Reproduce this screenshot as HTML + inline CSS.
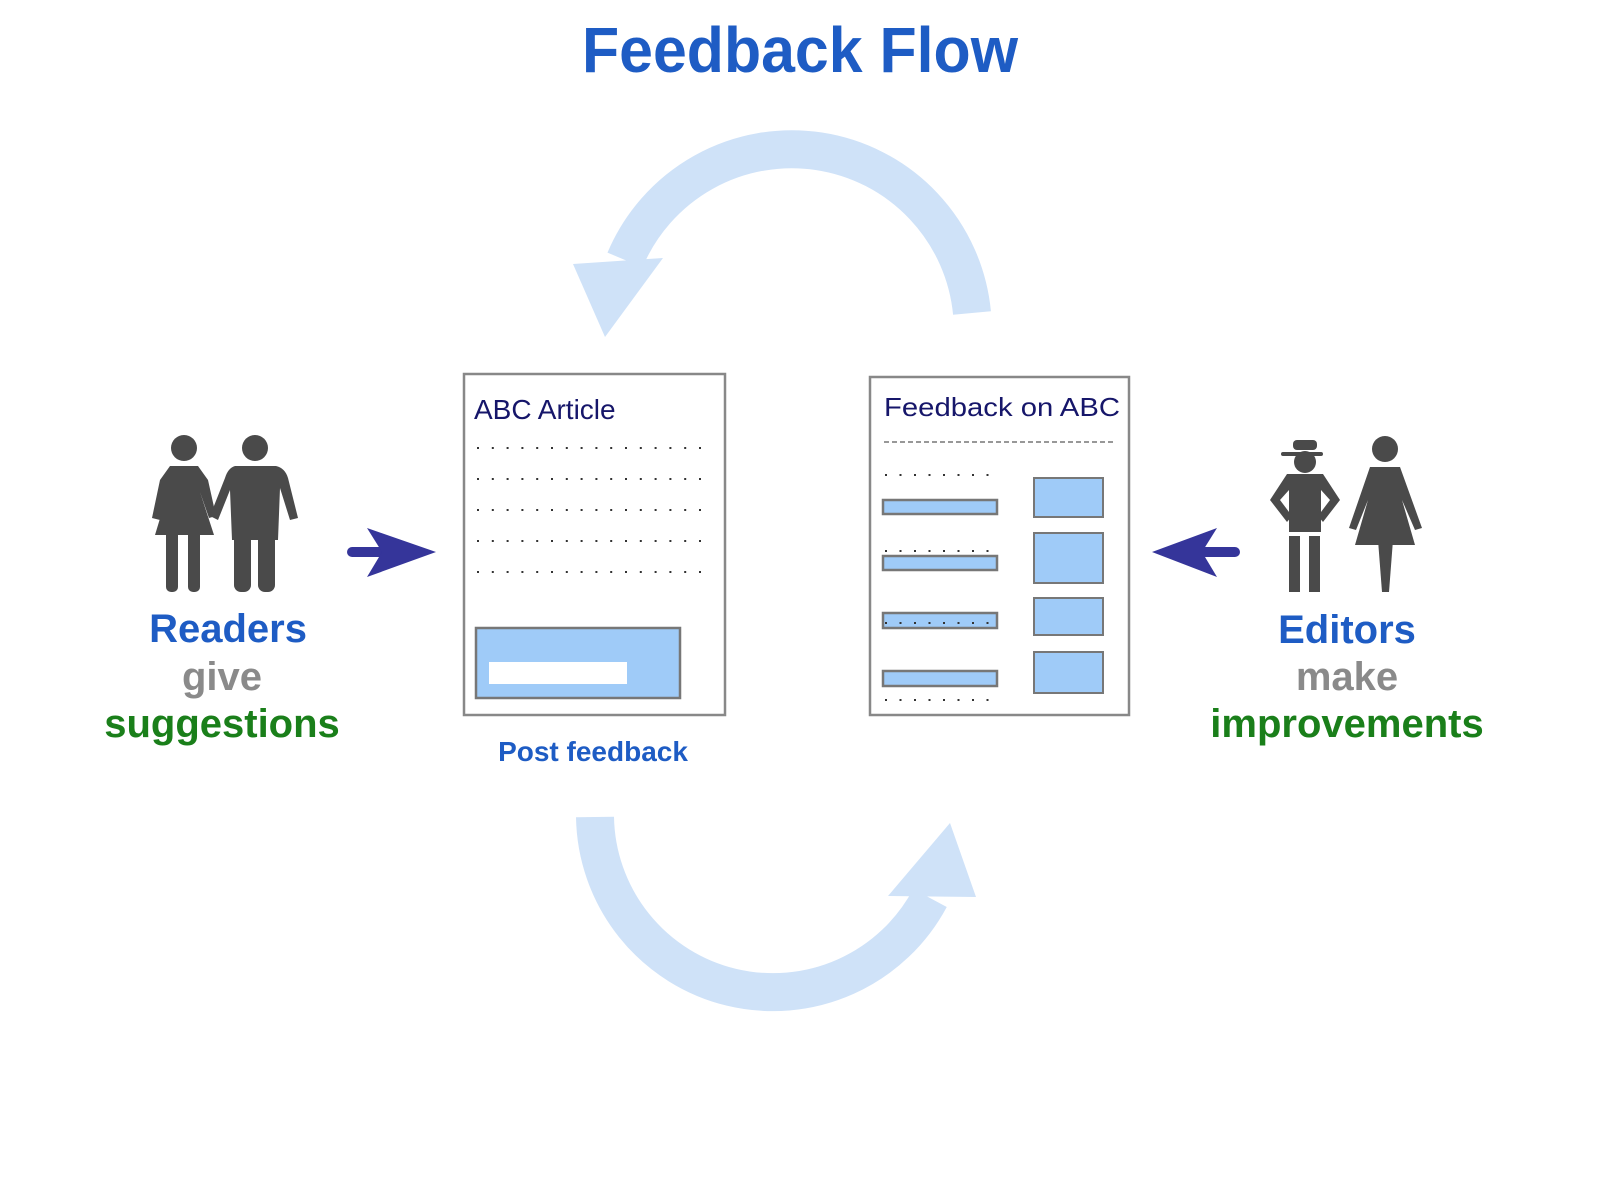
<!DOCTYPE html>
<html><head><meta charset="utf-8"><style>
html,body{margin:0;padding:0;background:#fff;}
svg{display:block;}
</style></head><body>
<svg width="1600" height="1200" viewBox="0 0 1600 1200" xmlns="http://www.w3.org/2000/svg">
<rect width="1600" height="1200" fill="#fff"/>
<text x="582" y="72" font-family="Liberation Sans, sans-serif" font-weight="bold" font-size="64" fill="#1e5cc4" textLength="436" lengthAdjust="spacingAndGlyphs">Feedback Flow</text>

<!-- arcs -->
<g fill="none" stroke="#cfe2f8" stroke-width="38">
<path d="M 972 313 A 181 181 0 0 0 625 260"/>
<path d="M 595 817 A 178 178 0 0 0 930 898"/>
</g>
<polygon points="573,264 663,258 605,337" fill="#cfe2f8"/>
<polygon points="888,896 976,897 950,823" fill="#cfe2f8"/>

<!-- readers icons -->
<g fill="#4a4a4a">
<circle cx="184" cy="448" r="13"/>
<path d="M170 466 L198 466 L208 480 L216 516 L209 518 L200 492 L214 535 L155 535 L168 492 L160 520 L152 518 L160 480 Z"/>
<rect x="166" y="530" width="12" height="62" rx="5"/>
<rect x="188" y="530" width="12" height="62" rx="5"/>
<circle cx="255" cy="448" r="13"/>
<path d="M235 466 L276 466 Q285 468 288 478 L298 518 L290 520 L280 488 L278 540 L232 540 L230 490 L218 520 L210 516 L225 478 Q228 468 235 466 Z"/>
<rect x="234" y="530" width="17" height="62" rx="7"/>
<rect x="258" y="530" width="17" height="62" rx="7"/>
</g>

<!-- editors icons -->
<g fill="#4a4a4a">
<rect x="1293" y="440" width="24" height="10" rx="4"/>
<rect x="1281" y="452" width="42" height="4" rx="2"/>
<circle cx="1305" cy="462" r="11"/>
<path d="M1287 474 L1323 474 L1340 500 L1323 522 L1318 516 L1330 500 L1321 490 L1321 532 L1289 532 L1289 490 L1280 500 L1292 516 L1287 522 L1270 500 Z"/>
<rect x="1289" y="536" width="11" height="56"/>
<rect x="1309" y="536" width="11" height="56"/>
<circle cx="1385" cy="449" r="13"/>
<path d="M1370 467 L1400 467 L1422 528 L1415 530 L1402 500 L1415 545 L1355 545 L1368 500 L1356 530 L1349 528 Z"/>
<path d="M1378 540 L1393 540 L1389 592 L1382 592 Z"/>
</g>

<!-- arrows -->
<g fill="#35359a">
<rect x="347" y="547" width="40" height="10" rx="5"/>
<polygon points="436,552 367,528 382,552 367,577"/>
<rect x="1200" y="547" width="40" height="10" rx="5"/>
<polygon points="1152,552 1217,528 1202,552 1217,577"/>
</g>

<!-- text labels -->
<g font-family="Liberation Sans, sans-serif" font-weight="bold" font-size="40" text-anchor="middle">
<text x="228" y="642" fill="#1e5cc4">Readers</text>
<text x="222" y="690" fill="#8a8a8a">give</text>
<text x="222" y="737" fill="#1a7f1a">suggestions</text>
<text x="1347" y="643" fill="#1e5cc4">Editors</text>
<text x="1347" y="690" fill="#8a8a8a">make</text>
<text x="1347" y="737" fill="#1a7f1a">improvements</text>
</g>

<!-- left box -->
<rect x="464" y="374" width="261" height="341" fill="#fff" stroke="#888" stroke-width="2.5"/>
<text x="474" y="419" font-family="Liberation Sans, sans-serif" font-size="28" fill="#16166a">ABC Article</text>
<g stroke="#333" stroke-width="2" stroke-dasharray="2 12.8" fill="none">
<line x1="477" y1="448" x2="702" y2="448"/>
<line x1="477" y1="479" x2="702" y2="479"/>
<line x1="477" y1="510" x2="702" y2="510"/>
<line x1="477" y1="541" x2="702" y2="541"/>
<line x1="477" y1="572" x2="702" y2="572"/>
</g>
<rect x="476" y="628" width="204" height="70" fill="#9fcbf8" stroke="#777" stroke-width="2.5"/>
<rect x="489" y="662" width="138" height="22" fill="#fff"/>
<text x="593" y="761" font-family="Liberation Sans, sans-serif" font-weight="bold" font-size="28" fill="#1e5cc4" text-anchor="middle">Post feedback</text>

<!-- right box -->
<rect x="870" y="377" width="259" height="338" fill="#fff" stroke="#888" stroke-width="2.5"/>
<text x="884" y="416" font-family="Liberation Sans, sans-serif" font-size="26" fill="#16166a" textLength="236" lengthAdjust="spacingAndGlyphs">Feedback on ABC</text>
<line x1="884" y1="442" x2="1115" y2="442" stroke="#777" stroke-width="1.5" stroke-dasharray="5 3"/>
<g fill="#9fcbf8" stroke="#777" stroke-width="2.5">
<rect x="883" y="500" width="114" height="14"/>
<rect x="883" y="556" width="114" height="14"/>
<rect x="883" y="613" width="114" height="15"/>
<rect x="883" y="671" width="114" height="15"/>
<rect x="1034" y="478" width="69" height="39" stroke-width="2"/>
<rect x="1034" y="533" width="69" height="50" stroke-width="2"/>
<rect x="1034" y="598" width="69" height="37" stroke-width="2"/>
<rect x="1034" y="652" width="69" height="41" stroke-width="2"/>
</g>
<g stroke="#333" stroke-width="2" stroke-dasharray="2 12.5" fill="none">
<line x1="885" y1="475" x2="1000" y2="475"/>
<line x1="885" y1="551" x2="1000" y2="551"/>
<line x1="885" y1="623" x2="1000" y2="623"/>
<line x1="885" y1="700" x2="1000" y2="700"/>
</g>
</svg>
</body></html>
